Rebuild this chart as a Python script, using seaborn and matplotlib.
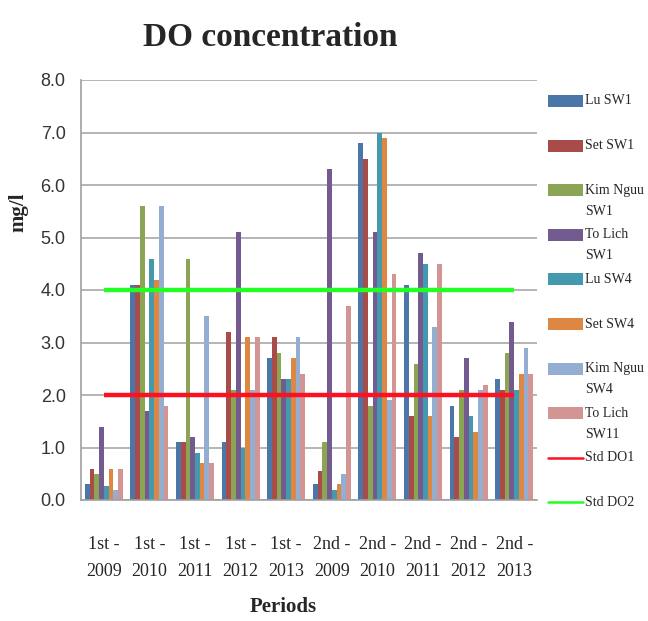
import matplotlib
matplotlib.use("Agg")
import matplotlib.pyplot as plt
from matplotlib.patches import Rectangle
from matplotlib.lines import Line2D
import seaborn as sns
import pandas as pd

periods = ["1st -\n2009", "1st -\n2010", "1st -\n2011", "1st -\n2012", "1st -\n2013",
           "2nd -\n2009", "2nd -\n2010", "2nd -\n2011", "2nd -\n2012", "2nd -\n2013"]

lu_sw1       = [0.3, 4.1, 1.1, 1.1, 2.7, 0.3, 6.8, 4.1, 1.8, 2.3]
set_sw1      = [0.6, 4.1, 1.1, 3.2, 3.1, 0.55, 6.5, 1.6, 1.2, 2.1]
kim_nguu_sw1 = [0.5, 5.6, 4.6, 2.1, 2.8, 1.1, 1.8, 2.6, 2.1, 2.8]
to_lich_sw1  = [1.4, 1.7, 1.2, 5.1, 2.3, 6.3, 5.1, 4.7, 2.7, 3.4]
lu_sw4       = [0.27, 4.6, 0.9, 1.0, 2.3, 0.2, 7.0, 4.5, 1.6, 2.1]
set_sw4      = [0.6, 4.2, 0.7, 3.1, 2.7, 0.3, 6.9, 1.6, 1.3, 2.4]
kim_nguu_sw4 = [0.2, 5.6, 3.5, 2.1, 3.1, 0.5, 1.9, 3.3, 2.1, 2.9]
to_lich_sw11 = [0.6, 1.8, 0.7, 3.1, 2.4, 3.7, 4.3, 4.5, 2.2, 2.4]

std_do1 = [2.0, 2.0, 2.0, 2.0, 2.0, 2.0, 2.0, 2.0, 2.0, 2.0]
std_do2 = [4.0, 4.0, 4.0, 4.0, 4.0, 4.0, 4.0, 4.0, 4.0, 4.0]

series = {
    "Lu SW1": lu_sw1,
    "Set SW1": set_sw1,
    "Kim Nguu SW1": kim_nguu_sw1,
    "To Lich SW1": to_lich_sw1,
    "Lu SW4": lu_sw4,
    "Set SW4": set_sw4,
    "Kim Nguu SW4": kim_nguu_sw4,
    "To Lich SW11": to_lich_sw11,
}
colors = ["#4A76A8", "#A94B48", "#8BA555", "#735B8F",
          "#4499AF", "#DD8743", "#94AED2", "#D39593"]

rows = []
for name, vals in series.items():
    for p, v in zip(periods, vals):
        rows.append({"Period": p, "Station": name, "DO": v})
df = pd.DataFrame(rows)

sns.set_style("white")
serif = ["Liberation Serif", "DejaVu Serif"]
narrow = ["Liberation Sans Narrow", "Liberation Sans", "DejaVu Sans"]

fig = plt.figure(figsize=(6.48, 6.21), dpi=100)
ax = fig.add_axes([81 / 648, 1 - 500 / 621, (537 - 81) / 648, 420 / 621])

sns.barplot(data=df, x="Period", y="DO", hue="Station", order=periods,
            hue_order=list(series.keys()), palette=colors, width=0.83,
            gap=0, saturation=1, linewidth=0, legend=False, ax=ax, zorder=3)

xpos = list(range(len(periods)))
ax.plot(xpos, std_do1, color="#FF1020", lw=3.2, zorder=5, solid_capstyle="butt")
ax.plot(xpos, std_do2, color="#22FF22", lw=3.2, zorder=5, solid_capstyle="butt")

ax.set_xlim(-0.5, len(periods) - 0.5)
ax.set_ylim(0, 8)
ax.set_yticks([0, 1, 2, 3, 4, 5, 6, 7, 8])
ax.set_yticklabels([f"{v:.1f}" for v in range(9)], fontfamily=narrow, fontsize=13,
                   color="#333333")
ax.set_xticks(xpos)
ax.set_xticklabels(periods, fontfamily=serif, fontsize=13, linespacing=1.75)
ax.tick_params(axis="x", length=0, pad=26)
ax.tick_params(axis="y", length=5, width=1, color="#A0A0A0", direction="out", pad=6)
ax.yaxis.grid(True, color="#A0A0A0", lw=1.1, zorder=0)
ax.set_axisbelow(True)
for s in ["top", "right"]:
    ax.spines[s].set_visible(False)
for s in ["left", "bottom"]:
    ax.spines[s].set_color("#A0A0A0")
    ax.spines[s].set_linewidth(1.2)
ax.spines["bottom"].set_zorder(6)

ax.set_xlabel("")
ax.set_ylabel("")
fig.text(283 / 648, 1 - 607 / 621, "Periods", ha="center", va="center",
         fontfamily=serif, fontsize=15, fontweight="bold")
fig.text(18 / 648, 1 - 212 / 621, "mg/l", ha="center", va="center", rotation=90,
         fontfamily=serif, fontsize=15, fontweight="bold")
fig.text(270 / 648, 1 - 38 / 621, "DO concentration", ha="center", va="center",
         fontfamily=serif, fontsize=24, fontweight="bold")

# legend entries drawn at fixed rows; long names wrap onto a second line
legend_labels = [["Lu SW1"], ["Set SW1"], ["Kim Nguu", "SW1"], ["To Lich", "SW1"],
                 ["Lu SW4"], ["Set SW4"], ["Kim Nguu", "SW4"], ["To Lich", "SW11"],
                 ["Std DO1"], ["Std DO2"]]
legend_colors = colors + ["#FF1020", "#22FF22"]
for i, (lines, c) in enumerate(zip(legend_labels, legend_colors)):
    yc = 101 + 44.6 * i
    yf = 1 - yc / 621
    if i < 8:
        fig.add_artist(Rectangle((548 / 648, yf - 6 / 621), 35 / 648, 12 / 621,
                                 transform=fig.transFigure, facecolor=c,
                                 edgecolor="none"))
    else:
        fig.add_artist(Line2D([548 / 648, 583 / 648], [yf, yf],
                              transform=fig.transFigure, color=c, lw=1.8))
    for k, t in enumerate(lines):
        fig.text(585 / 648, 1 - (yc + 21 * k) / 621, t, ha="left", va="center",
                 fontfamily=serif, fontsize=10)

fig.savefig("out.png", dpi=100)
